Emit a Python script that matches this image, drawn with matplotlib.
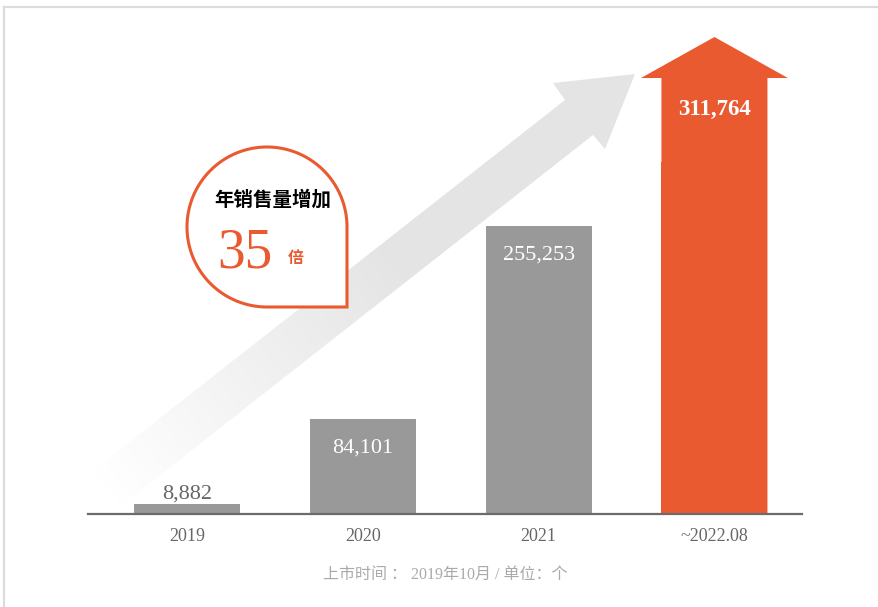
import numpy as np
import matplotlib
matplotlib.use('Agg')
import matplotlib.pyplot as plt
from matplotlib.patches import Polygon

years = ['2019', '2020', '2021', '~2022.08']
sales = [8882, 84101, 255253, 311764]
bubble_title = '年销售量增加'
bubble_num = '35'
bubble_unit = '倍'
footer = '上市时间 ： 2019年10月 / 单位：个'

ORANGE = '#e95a31'
GRAY = '#999999'
SERIF = ['Liberation Serif', 'Noto Sans CJK SC']

W, H = 879, 607
fig = plt.figure(figsize=(W / 100, H / 100), dpi=100)
fig.patch.set_facecolor('white')

# decoration layer in pixel coordinates (y down)
deco = fig.add_axes([0, 0, 1, 1], zorder=0)
deco.set_xlim(0, W)
deco.set_ylim(H, 0)
deco.axis('off')

# outer frame
deco.plot([4, W], [7, 7], color='#dcdcdc', lw=1.6)
deco.plot([4, 4], [7, H], color='#dcdcdc', lw=1.6)

# big faded gray arrow
d = np.array([-0.787, 0.618])
nl = np.array([565, 100])
nr = np.array([593, 135])
L = 600
arrow_pts = [(635, 74), (553, 83), tuple(nl), tuple(nl + L * d), tuple(nr + L * d),
             tuple(nr), (605, 149)]
poly = Polygon(arrow_pts, closed=True, facecolor='none', edgecolor='none')
deco.add_patch(poly)
x0, x1, y0, y1 = 0, 660, 60, 560
gx, gy = np.meshgrid(np.arange(x0, x1), np.arange(y0, y1))
t = ((gx - nl[0]) * d[0] + (gy - nl[1]) * d[1])
s = np.clip(1 - t / L, 0, 1)
k = np.clip(s / 0.6, 0, 1)
lvl = 1 - (1 - 0.898) * k
img = np.dstack([lvl, lvl, lvl])
im = deco.imshow(img, extent=(x0, x1, y1, y0), interpolation='bilinear', zorder=1)
im.set_clip_path(poly)

# bubble
cx, cy, r = 267, 227, 80
th = np.linspace(0, 1.5 * np.pi, 200)
bx = list(cx + r * np.cos(th)) + [cx + r, cx + r]
by = list(cy - r * np.sin(th)) + [cy + r, cy]
deco.add_patch(Polygon(list(zip(bx, by)), closed=True, facecolor='white',
                       edgecolor=ORANGE, lw=2.2, zorder=3, joinstyle='miter'))
deco.text(273, 200, bubble_title, ha='center', va='center', fontsize=14,
          fontweight='bold', family=['Noto Sans CJK SC'], color='black', zorder=4)
deco.text(245, 253, bubble_num, ha='center', va='center', fontsize=40,
          family=SERIF, color=ORANGE, zorder=4)
deco.text(296, 258, bubble_unit, ha='center', va='center', fontsize=11.5,
          fontweight='bold', family=['Noto Sans CJK SC'], color=ORANGE, zorder=4)

deco.text(445, 575, footer, ha='center', va='center', fontsize=11.5,
          family=SERIF, color='#aaaaaa')

# main chart
ax = fig.add_axes([88 / W, (H - 514) / H, (802 - 88) / W, (514 - 37) / H], zorder=1)
ax.patch.set_alpha(0)
ymax = 422800
ax.set_ylim(0, ymax)
ax.set_xlim(-0.563, 3.498)
x = np.arange(len(years))
bw = 0.603
colors = [GRAY] * (len(years) - 1) + [ORANGE]
ax.bar(x, sales, width=bw, color=colors, zorder=2)

# last bar continues into an arrow
head_base = 0.914 * ymax
hw = 0.418
xl = x[-1]
ax.fill([xl - bw / 2, xl + bw / 2, xl + bw / 2, xl + hw, xl, xl - hw, xl - bw / 2],
        [0, 0, head_base, head_base, ymax, head_base, head_base],
        color=ORANGE, lw=0, zorder=2)

for i, v in enumerate(sales):
    lab = f'{v:,}'
    if i == 0:
        ax.text(x[i], v, lab, ha='center', va='bottom', fontsize=16,
                family=SERIF, color='#666666', zorder=3)
    elif i == len(sales) - 1:
        ax.text(x[i], head_base - 31 * ymax / 477, lab, ha='center', va='center',
                fontsize=16.5, fontweight='bold', family=SERIF, color='white', zorder=3)
    else:
        ax.text(x[i], v - 29 * ymax / 477, lab, ha='center', va='center', fontsize=16,
                family=SERIF, color='white', zorder=3)

ax.set_xticks(x)
ax.set_xticklabels(years, family=SERIF, fontsize=13, color='#666666')
ax.tick_params(axis='x', length=0, pad=10)
ax.set_yticks([])
for sp in ['top', 'right', 'left']:
    ax.spines[sp].set_visible(False)
ax.spines['bottom'].set_color('#6b6b6b')
ax.spines['bottom'].set_linewidth(1.6)

fig.savefig('out.png', dpi=100)
